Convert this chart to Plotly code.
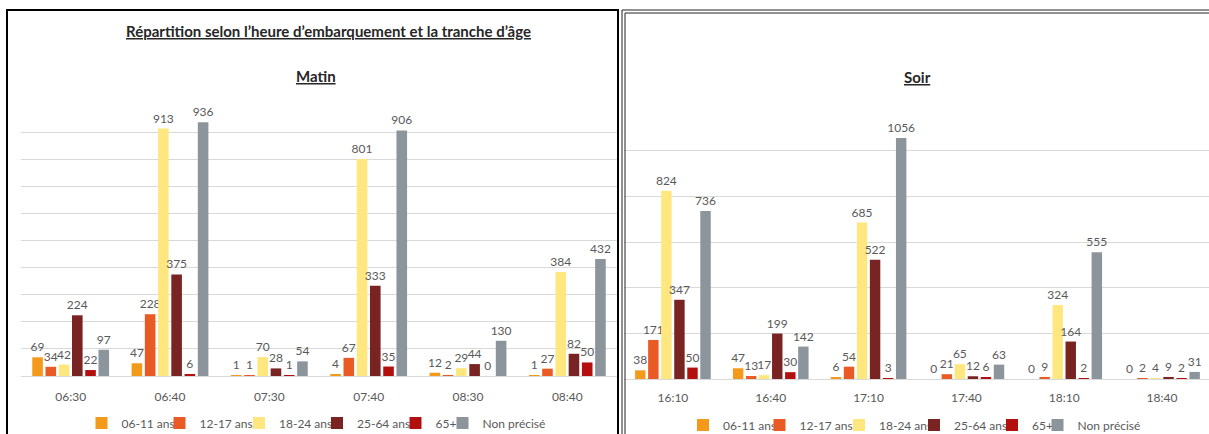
import plotly.graph_objects as go

# ---------------- data ----------------
series = ["06-11 ans", "12-17 ans", "18-24 ans", "25-64 ans", "65+", "Non précisé"]

matin_times = ["06:30", "06:40", "07:30", "07:40", "08:30", "08:40"]
matin_0611 = [69, 47, 1, 4, 12, 1]
matin_1217 = [34, 228, 1, 67, 2, 27]
matin_1824 = [42, 913, 70, 801, 29, 384]
matin_2564 = [224, 375, 28, 333, 44, 82]
matin_65 = [22, 6, 1, 35, 0, 50]
matin_np = [97, 936, 54, 906, 130, 432]

soir_times = ["16:10", "16:40", "17:10", "17:40", "18:10", "18:40"]
soir_0611 = [38, 47, 6, 0, 0, 0]
soir_1217 = [171, 13, 54, 21, 9, 2]
soir_1824 = [824, 17, 685, 65, 324, 4]
soir_2564 = [347, 199, 522, 12, 164, 9]
soir_65 = [50, 30, 3, 6, 2, 2]
soir_np = [736, 142, 1056, 63, 555, 31]

main_title = "Répartition selon l’heure d’embarquement et la tranche d’âge"
panel_titles = ["Matin", "Soir"]

# ---------------- style ----------------
colors = ["#F39A1B", "#EA5A24", "#FFE780", "#7A2323", "#B30F0F", "#8C959B"]
W, H = 1209, 434
FONT = "Lato"
GREY = "#595959"


def px(x):
    return x / W


def py(y):
    return 1 - y / H


matin = [matin_0611, matin_1217, matin_1824, matin_2564, matin_65, matin_np]
soir = [soir_0611, soir_1217, soir_1824, soir_2564, soir_65, soir_np]

# legend square centres (pixels) for each panel
leg_left_cx = [108.5, 186.5, 266, 344, 422.5, 469.5]
leg_right_cx = [710, 786.5, 866, 941, 1019, 1064.5]

fig = go.Figure()
layout_legends = {}

panels = [
    (matin_times, matin, "x", "y", leg_left_cx, 423, 0),
    (soir_times, soir, "x2", "y2", leg_right_cx, 425, 6),
]
for times, vals, xa, ya, cxs, ly, off in panels:
    for i, name in enumerate(series):
        lname = "legend" if off + i == 0 else f"legend{off + i + 1}"
        fig.add_trace(go.Bar(
            x=times, y=vals[i], name=name,
            marker=dict(color=colors[i], line=dict(width=0)),
            text=vals[i], textposition="outside",
            textfont=dict(family=FONT, size=12, color=GREY),
            constraintext="none", cliponaxis=False,
            xaxis=xa, yaxis=ya, legend=lname, showlegend=True,
            hoverinfo="x+y+name",
        ))
        layout_legends[lname] = dict(
            x=px(cxs[i] - 27), y=py(ly), xanchor="left", yanchor="middle",
            orientation="h", bgcolor="rgba(0,0,0,0)",
            font=dict(family=FONT, size=12, color=GREY),
            itemclick=False, itemdoubleclick=False,
        )

axis_common_x = dict(
    type="category", showgrid=False, showline=False, zeroline=False,
    tickfont=dict(family=FONT, size=12, color=GREY),
    ticks="outside", tickcolor="rgba(0,0,0,0)", fixedrange=True,
)
axis_common_y = dict(
    showticklabels=False, showgrid=True, gridcolor="#D9D9D9", gridwidth=1,
    zeroline=True, zerolinecolor="#D9D9D9", zerolinewidth=1,
    showline=False, ticks="", fixedrange=True,
)

fig.update_layout(
    width=W, height=H, autosize=False, showlegend=True,
    margin=dict(l=0, r=0, t=0, b=0, pad=0, autoexpand=False),
    paper_bgcolor="white", plot_bgcolor="white",
    barmode="group", bargap=0.2, bargroupgap=0.2,
    font=dict(family=FONT, size=12, color=GREY),
    xaxis=dict(domain=[px(21), px(617)], anchor="y", ticklen=10, **axis_common_x),
    yaxis=dict(domain=[py(376), py(105)], range=[0, 1000], dtick=100, anchor="x",
               **axis_common_y),
    xaxis2=dict(domain=[px(624), 1], anchor="y2", range=[-0.5, 5.48], ticklen=8,
                **axis_common_x),
    yaxis2=dict(domain=[py(379), py(105)], range=[0, 1200], dtick=200, anchor="x2",
                **axis_common_y),
    **layout_legends,
)

# titles
title_font = dict(family=FONT, size=15, color="#262626")
fig.add_annotation(text=f"<b><u>{main_title}</u></b>", x=px(328), y=py(31),
                   xref="paper", yref="paper", showarrow=False,
                   xanchor="center", yanchor="middle", font=title_font)
fig.add_annotation(text=f"<b><u>{panel_titles[0]}</u></b>", x=px(316), y=py(76),
                   xref="paper", yref="paper", showarrow=False,
                   xanchor="center", yanchor="middle", font=title_font)
fig.add_annotation(text=f"<b><u>{panel_titles[1]}</u></b>", x=px(917), y=py(77),
                   xref="paper", yref="paper", showarrow=False,
                   xanchor="center", yanchor="middle", font=title_font)


def open_frame(x0, x1, ytop, ybottom):
    return (f"M {px(x0)},{py(ybottom)} L {px(x0)},{py(ytop)} "
            f"L {px(x1)},{py(ytop)} L {px(x1)},{py(ybottom)}")


# panel frames (open at the bottom / right, as cropped in the original)
fig.add_shape(type="path", xref="paper", yref="paper",
              path=open_frame(7, 618, 10, 434),
              line=dict(color="#000000", width=2), layer="above")
fig.add_shape(type="path", xref="paper", yref="paper",
              path=f"M {px(622)},{py(434)} L {px(622)},{py(10)} L 1,{py(10)}",
              line=dict(color="#222222", width=1), layer="above")
fig.add_shape(type="path", xref="paper", yref="paper",
              path=f"M {px(625)},{py(434)} L {px(625)},{py(13)} L 1,{py(13)}",
              line=dict(color="#222222", width=1), layer="above")

fig.write_html(
    "out.html",
    config={"displayModeBar": False},
    post_script="document.body.style.margin='0px';document.body.style.overflow='hidden';",
)
